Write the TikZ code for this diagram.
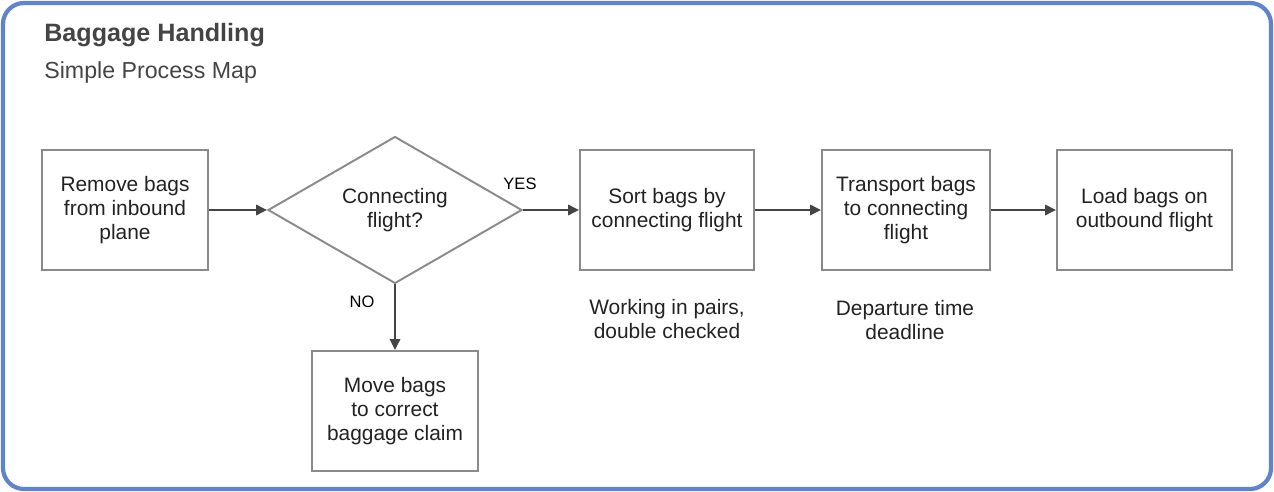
\documentclass[tikz,border=0pt]{standalone}
\usepackage{fontspec}
\setmainfont{Liberation Sans}
\usetikzlibrary{arrows.meta,shapes.geometric}
\definecolor{frameblue}{HTML}{6283C7}
\definecolor{boxgray}{HTML}{8A8A8A}
\definecolor{txtgray}{HTML}{222222}
\definecolor{arrgray}{HTML}{444444}

\begin{document}
\begin{tikzpicture}[x=0.02cm,y=-0.02cm,every node/.style={font=\fontsize{11.9}{13.6}\selectfont,text=txtgray},
  procbox/.style={draw=boxgray,line width=1.1pt,align=center,inner sep=0pt,minimum width=#1,minimum height=2.4cm},
  decbox/.style={draw=boxgray,line width=1.1pt,diamond,aspect=1.73,align=center,inner sep=0pt,minimum width=5.08cm,minimum height=2.94cm},
  flow/.style={draw=arrgray,line width=1.3pt,-{Triangle[length=6.2pt,width=5.8pt]}},
  branch/.style={font=\fontsize{9.4}{11}\selectfont,text=black}]
\useasboundingbox (0,0) rectangle (1274,492);
\draw[frameblue,line width=2.4pt,rounded corners=0.42cm] (3,3) rectangle (1271,489);
\node[anchor=west,inner sep=0pt,font=\fontsize{14.3}{16}\selectfont\bfseries,text=arrgray] (title) at (44,35) {Baggage Handling};
\node[anchor=west,inner sep=0pt,font=\fontsize{13.2}{15}\selectfont,text=arrgray] (subtitle) at (44,73) {Simple Process Map};
% process steps
\node[procbox=3.32cm] (remove) at (125,210) {Remove bags\\from inbound\\plane};
\node[decbox] (connect) at (395,210) {Connecting\\flight?};
\node[procbox=3.48cm] (sort) at (667,210) {Sort bags by\\connecting flight};
\node[procbox=3.36cm] (transport) at (906,210) {Transport bags\\to connecting\\flight};
\node[procbox=3.5cm] (load) at (1144.5,210) {Load bags on\\outbound flight};
\node[procbox=3.32cm] (move) at (395,411) {Move bags\\to correct\\baggage claim};
% notes
\node[align=center] (sortnote) at (667,319) {Working in pairs,\\double checked};
\node[align=center] (transnote) at (905,320) {Departure time\\deadline};
% connectors
\draw[flow] (remove.east) -- (connect.west);
\draw[flow] (connect.east) -- (sort.west);
\draw[flow] (sort.east) -- (transport.west);
\draw[flow] (transport.east) -- (load.west);
\draw[flow] (connect.south) -- (move.north);
\node[branch] (yes) at (520,184) {YES};
\node[branch] (no) at (362,302) {NO};
\end{tikzpicture}
\end{document}
